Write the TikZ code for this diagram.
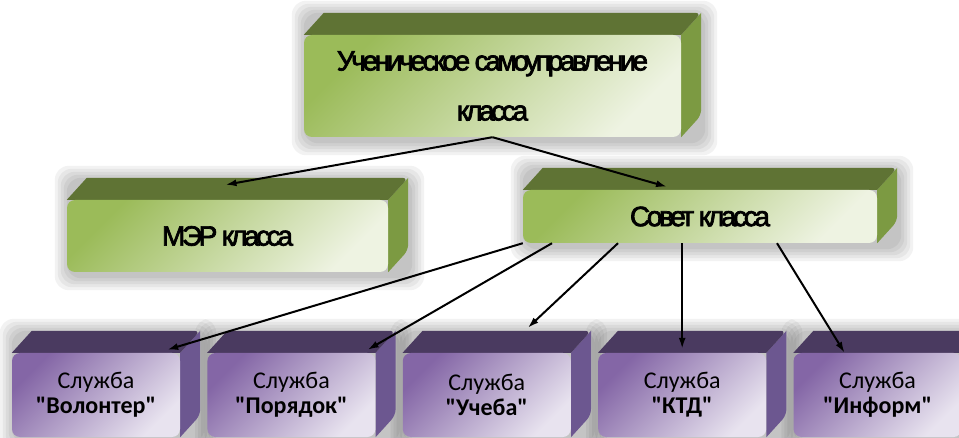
\documentclass[tikz,border=0pt]{standalone}
\usepackage{fontspec}
\setmainfont{Carlito}[Ligatures=TeXOff]
\newfontfamily\squeezed{Liberation Sans}[LetterSpace=-12, FakeBold=2.5]
\usetikzlibrary{positioning,calc,arrows.meta}

\definecolor{grnfront}{HTML}{9BBB59}
\definecolor{grnlight}{HTML}{EEF3E2}
\definecolor{grntop}{HTML}{5F7334}
\definecolor{grnside}{HTML}{7C9A42}
\definecolor{vltfront}{HTML}{8466A6}
\definecolor{vltlight}{HTML}{E8E3EF}
\definecolor{vlttop}{HTML}{4A3A60}
\definecolor{vltside}{HTML}{6C5790}

\pgfdeclarelayer{shadow}
\pgfdeclarelayer{back}
\pgfsetlayers{shadow,back,main}

% extrusion behind a front face: node, top colour, side colour
\newcommand{\extrude}[3]{%
  \fill[#3] (#1.north east) -- ++(20,-22) {[rounded corners=6pt] -- ($(#1.south east)+(20,-22)$)} -- (#1.south east) -- cycle;
  \fill[#2] (#1.north west) -- ++(20,-22) {[rounded corners=6pt] -- ($(#1.north east)+(20,-22)$)} -- (#1.north east) -- cycle;
}
% soft shadow round the whole block
\newcommand{\blockshadow}[1]{%
  \foreach \g in {2,5,8,11,14}
    \fill[black, opacity=0.05, rounded corners=14pt]
      ($(#1.north west)+(2-\g,-20-\g)$) rectangle ($(#1.south east)+(22+\g,4+\g)$);
}

\begin{document}
\begin{tikzpicture}[
  x=1pt, y=-1pt,
  node distance=27pt,
  greenbox/.style={rectangle, rounded corners=8pt, top color=grnfront, bottom color=grnlight,
    shading angle=45, align=center, inner sep=0pt, font=\squeezed\fontsize{28}{50}\selectfont},
  violetbox/.style={rectangle, rounded corners=8pt, top color=vltfront, bottom color=vltlight,
    shading angle=45, align=center, inner sep=0pt, minimum width=168pt, minimum height=84pt,
    font=\fontsize{24}{25}\selectfont},
  arr/.style={-{Latex[length=11pt,width=7pt]}, line width=2pt}
]
  \useasboundingbox (0,0) rectangle (959,438);

  \node[greenbox, minimum width=377pt, minimum height=102pt] (usam) at (492.5,86) {Ученическое самоуправление\\класса};
  \node[greenbox, minimum width=321pt, minimum height=72pt] (mer) at (227.5,236) {МЭР класса\vphantom{Е}};
  \node[greenbox, minimum width=354pt, minimum height=53pt] (sovet) at (700,216.5) {Совет класса};

  \node[violetbox] (volonter) at (96,395) {Служба\\\textbf{"Волонтер"}};
  \node[violetbox, right=of volonter] (poryadok) {Служба\\\textbf{"Порядок"}};
  \node[violetbox, right=of poryadok] (ucheba) {Служба\\\textbf{"Учеба"}};
  \node[violetbox, right=of ucheba] (ktd) {Служба\\\textbf{"КТД"}};
  \node[violetbox, right=of ktd] (inform) {Служба\\\textbf{"Информ"}};

  \begin{pgfonlayer}{shadow}
    \foreach \b in {usam,mer,sovet,volonter,poryadok,ucheba,ktd,inform} {\blockshadow{\b}}
  \end{pgfonlayer}
  \begin{pgfonlayer}{back}
    \foreach \b in {usam,mer,sovet} {\extrude{\b}{grntop}{grnside}}
    \foreach \b in {volonter,poryadok,ucheba,ktd,inform} {\extrude{\b}{vlttop}{vltside}}
  \end{pgfonlayer}

  \draw[arr] (usam.south) -- ($(mer.north)+(-2,-15)$);
  \draw[arr] (usam.south) -- ($(sovet.north)+(-33,-3)$);
  \draw[arr] (sovet.south west) -- ($(volonter.north east)+(-13,-3)$);
  \draw[arr] ($(sovet.south)+(-148,0)$) -- ($(poryadok.north east)+(-8,-3)$);
  \draw[arr] ($(sovet.south)+(-82,0)$) -- ($(ucheba.north)+(41,-25)$);
  \draw[arr] (sovet.south -| ktd.north) -- ($(ktd.north)+(0,-4)$);
  \draw[arr] ($(sovet.south)+(77,0)$) -- ($(inform.north)+(-33,0)$);
\end{tikzpicture}
\end{document}
